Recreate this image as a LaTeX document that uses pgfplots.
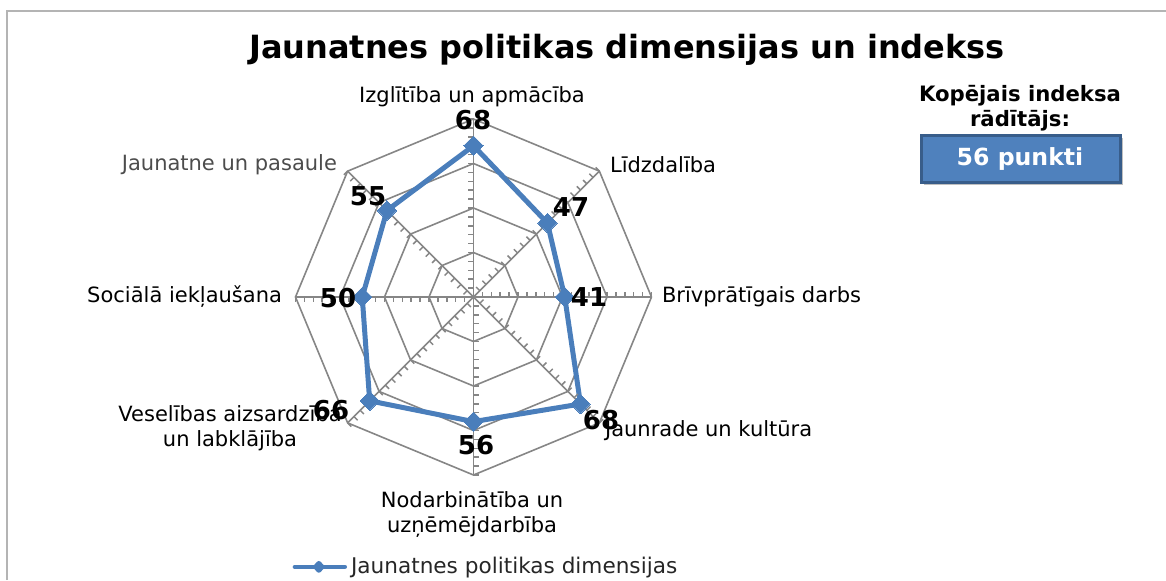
\documentclass[border=0pt]{standalone}
\usepackage{fontspec}
\setmainfont{DejaVu Sans}
\usepackage{pgfplots}
\usepackage{pgfplotstable}
\pgfplotsset{compat=1.18}
\usepgfplotslibrary{polar}

\definecolor{seriesblue}{HTML}{4A7EBB}
\definecolor{boxblue}{HTML}{4F81BD}
\definecolor{boxedge}{HTML}{385D8A}
\definecolor{gridgray}{HTML}{868686}
\definecolor{framegray}{HTML}{B4B4B4}

% short tick pointing to the counter-clockwise side of a spoke
\pgfdeclareplotmark{halftick}{%
  \pgfpathmoveto{\pgfqpoint{0pt}{0pt}}%
  \pgfpathlineto{\pgfqpoint{0pt}{\pgfplotmarksize}}%
  \pgfusepathqstroke}

% angle (deg, 0 = right, counter-clockwise) and value
\pgfplotstableread[row sep=\\]{
ang val\\
90  68\\
45  47\\
0   41\\
315 68\\
270 56\\
225 66\\
180 50\\
135 55\\
90  68\\
}\dimdata

\pgfplotstableread[row sep=\\]{
r\\ 4\\ 8\\ 12\\ 16\\ 20\\ 24\\ 28\\ 32\\ 36\\ 40\\ 44\\ 48\\ 52\\ 56\\ 60\\ 64\\ 68\\ 72\\ 76\\ 80\\
}\ticktab

\begin{document}
\begin{tikzpicture}
\useasboundingbox (0pt,0pt) rectangle (583pt,-290pt);

\begin{polaraxis}[
    at={(236.75pt,-148.5pt)}, anchor=center,
    width=178pt, height=178pt, scale only axis,
    ymin=0, ymax=80,
    xtick=\empty, ytick=\empty,
    axis line style={draw=none},
    clip=false,
    legend style={at={(-0.008,-0.258)}, anchor=west, draw=none, fill=none,
        font=\fontsize{10.8}{12}\selectfont, text=black!85,
        inner sep=0pt, outer sep=0pt},
    legend image code/.code={%
        \draw[seriesblue, line width=2.2pt, line cap=round] (0pt,0pt) -- (25pt,0pt);
        \fill[seriesblue] (10.5pt,0pt) -- (12pt,1.7pt) -- (13.5pt,0pt) -- (12pt,-1.7pt) -- cycle;},
]
% octagonal rings
\pgfplotsinvokeforeach{20,40,60,80}{
  \addplot[forget plot, gridgray, line width=0.8pt] coordinates
    {(0,#1)(45,#1)(90,#1)(135,#1)(180,#1)(225,#1)(270,#1)(315,#1)(360,#1)};
}
% spokes and their ticks
\pgfplotsinvokeforeach{0,45,90,135,180,225,270,315}{
  \addplot[forget plot, gridgray, line width=0.8pt] coordinates {(#1,0)(#1,80)};
  \addplot[forget plot, only marks, mark=halftick, mark size=2.6pt,
    mark options={rotate=#1, draw=gridgray, line width=0.75pt}]
    table[x expr=#1, y=r]{\ticktab};
}
% the series
\addplot[seriesblue, line width=2.5pt, line join=round,
    mark=square*, mark size=3.4pt,
    mark options={rotate=45, fill=seriesblue, draw=seriesblue, line width=0pt}]
    table[x=ang, y=val]{\dimdata};
\addlegendentry{Jaunatnes politikas dimensijas}
\end{polaraxis}

\begin{scope}[x=0.5pt, y=-0.5pt]
% chart frame (top and left edges visible)
\draw[framegray, line width=1pt] (7,580) -- (7,11) -- (1166,11);

% title
\node[font=\fontsize{16}{19}\bfseries] at (627,50)
  {Jaunatnes politikas dimensijas un indekss};

% category labels
\begin{scope}[font=\fontsize{10.5}{12.6}\selectfont]
\node[anchor=center] at (472,97) {Izglītība un apmācība};
\node[anchor=west] at (603,165) {Līdzdalība};
\node[anchor=west] at (655,297) {Brīvprātīgais darbs};
\node[anchor=west] at (598,431) {Jaunrade un kultūra};
\node[anchor=north, align=center] at (472,484) {Nodarbinātība un\\uzņēmējdarbība};
\node[anchor=center, align=center] at (230,428) {Veselības aizsardzība\\un labklājība};
\node[anchor=east] at (289,297) {Sociālā iekļaušana};
\node[anchor=east, text=black!70] at (344,165) {Jaunatne un pasaule};
\end{scope}

% data labels
\begin{scope}[font=\fontsize{13}{15}\bfseries]
\node at (473,120) {68};
\node at (571,207) {47};
\node at (589,297) {41};
\node at (601,420) {68};
\node at (476,445) {56};
\node at (331,410) {66};
\node at (338,298) {50};
\node at (368,196) {55};
\end{scope}

% overall index box
\node[font=\fontsize{10.6}{12.6}\bfseries, align=center] at (1020,108)
  {Kopējais indeksa\\rādītājs:};
\fill[black!25] (924,138) rectangle (1123,185);
\draw[fill=boxblue, draw=boxedge, line width=1.5pt] (921,135) rectangle (1120,182);
\node[font=\fontsize{11.8}{14}\bfseries, text=white] at (1020,159) {56 punkti};
\end{scope}
\end{tikzpicture}
\end{document}
